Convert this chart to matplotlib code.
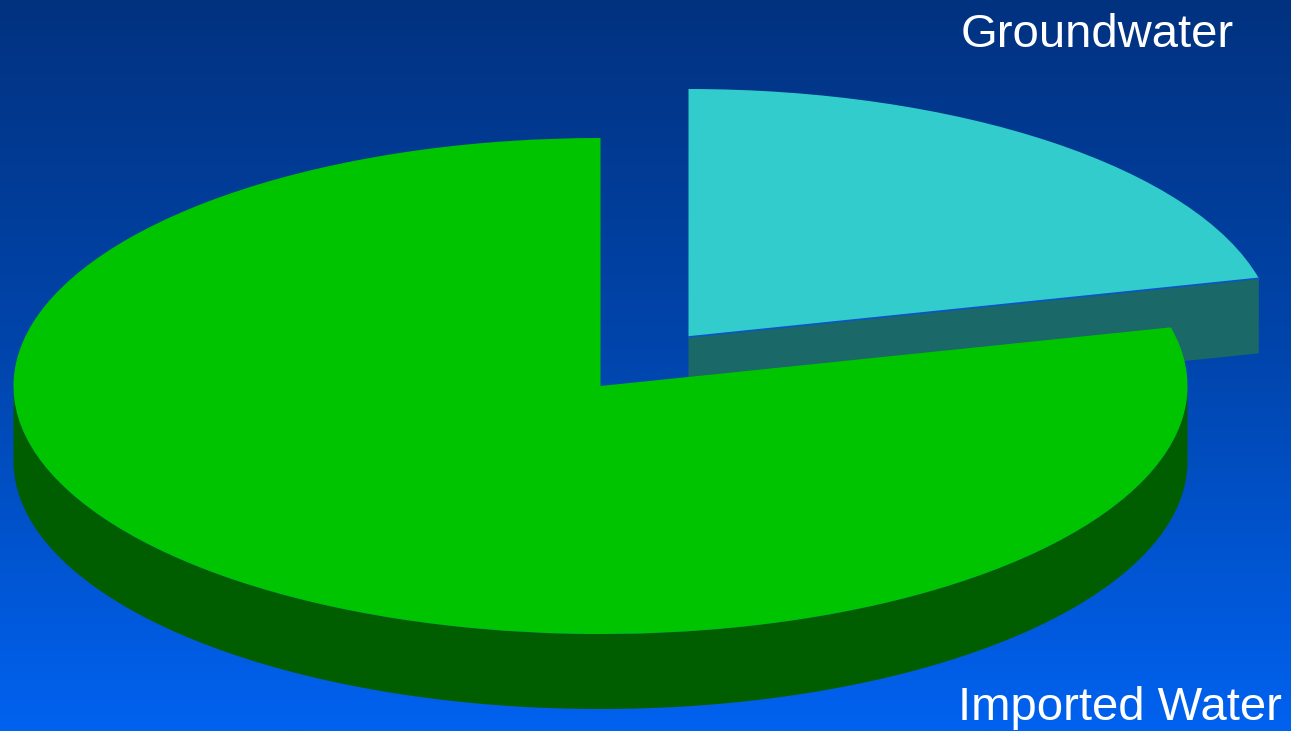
import numpy as np
import matplotlib
matplotlib.use('Agg')
import matplotlib.pyplot as plt
from matplotlib.patches import Wedge, Polygon
from matplotlib.transforms import Affine2D
from matplotlib.colors import LinearSegmentedColormap

# data
labels = ['Groundwater', 'Imported Water']
shares = [21.2, 78.8]
top_colors = ['#33CCCC', '#00C400']
side_colors = ['#1B6868', '#005E00']

# layout of the tilted pie (pixels)
cx, cy = 600.5, 386
rx, ry = 587, 248
depth = 75
explode = [(88, -49), (0, 0)]

fig = plt.figure(figsize=(12.91, 7.31), dpi=100)
ax = fig.add_axes([0, 0, 1, 1])
ax.set_xlim(0, 1291)
ax.set_ylim(731, 0)
ax.axis('off')

# background gradient
bg = LinearSegmentedColormap.from_list('bg', ['#023280', '#0046AE', '#0062F0'])
grad = np.linspace(0, 1, 256).reshape(-1, 1)
ax.imshow(grad, cmap=bg, extent=(0, 1291, 731, 0), aspect='auto', zorder=0)


def ell(t, dx, dy, down=0):
    t = np.radians(t)
    return np.column_stack([cx + dx + rx * np.cos(t), cy + dy - ry * np.sin(t) + down])


# slices go clockwise from 12 o'clock
start = 90.0
z = 1
for lab, s, ct, cs, (dx, dy) in zip(labels, shares, top_colors, side_colors, explode):
    th2 = start
    th1 = start - 360 * s / 100
    start = th1
    a, b = th1 % 360, (th1 % 360) + (th2 - th1)

    # radial faces facing the viewer
    for ang, vis in ((a, np.cos(np.radians(a)) > 1e-6), (b, np.cos(np.radians(b)) < -1e-6)):
        if vis:
            rim = ell(np.array([ang]), dx, dy)[0]
            c0 = np.array([cx + dx, cy + dy])
            pts = [c0, rim, rim + [0, depth], c0 + [0, depth]]
            ax.add_patch(Polygon(pts, closed=True, fc=cs, ec='none', zorder=z))
            # thin edge between top and face
            ax.plot([c0[0], rim[0]], [c0[1], rim[1]], color='#0A55C8', lw=1.2, zorder=z + 1.5)
    # outer rim in the front half
    for lo, hi in ((180, 360), (540, 720)):
        l, h = max(a, lo), min(b, hi)
        if h > l:
            t = np.linspace(l, h, 200)
            upper = ell(t, dx, dy)
            lower = ell(t[::-1], dx, dy, depth)
            ax.add_patch(Polygon(np.vstack([upper, lower]), closed=True,
                                 fc=cs, ec='none', zorder=z))
    tr = Affine2D().scale(rx, -ry).translate(cx + dx, cy + dy) + ax.transData
    w = Wedge((0, 0), 1, th1, th2, fc=ct, ec='none', zorder=z + 1)
    w.set_transform(tr)
    ax.add_patch(w)
    z += 2

ax.text(961, 47, labels[0], color='white', fontsize=34,
        family='Liberation Sans', ha='left', va='baseline', zorder=10)
ax.text(958, 720, labels[1], color='white', fontsize=34,
        family='Liberation Sans', ha='left', va='baseline', zorder=10)

fig.savefig('out.png', dpi=100)
